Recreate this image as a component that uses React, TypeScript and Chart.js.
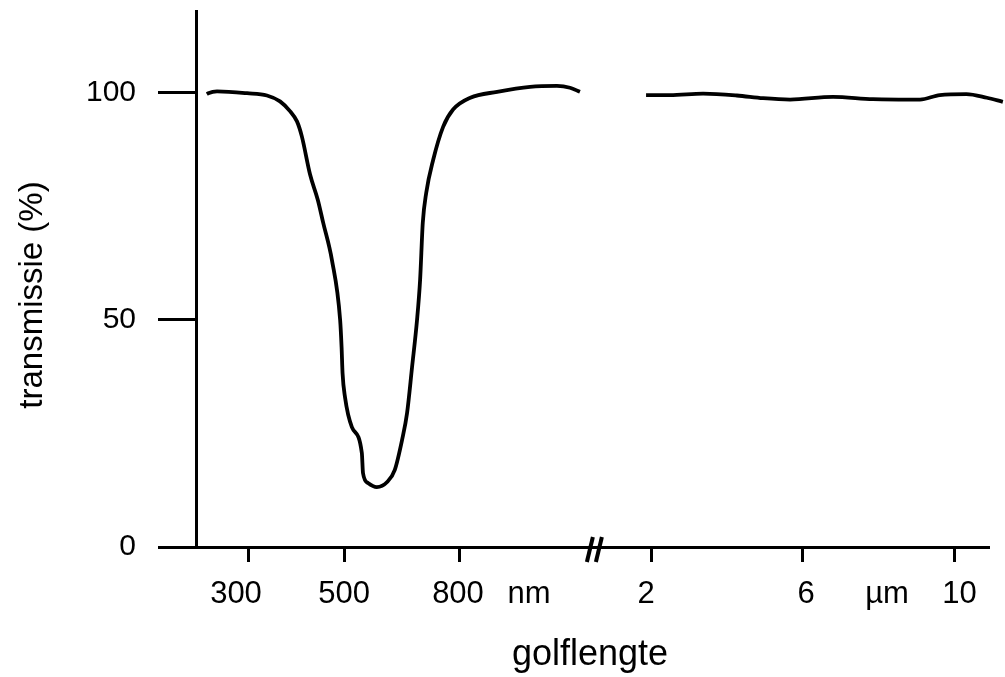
import React, { useEffect, useRef } from 'react';
import { Chart, registerables } from 'chart.js';

Chart.register(...registerables);

// ---- data ----
// visible part, wavelength in nm
const NM_WAVELENGTH = [215, 218, 236, 298, 339, 366, 387, 401, 411, 428, 444, 455, 473, 490, 493, 495, 500, 518, 544, 547, 560, 583, 610, 630, 649, 662, 675, 688, 696, 703, 712, 730, 756, 782, 827, 897, 983, 1053, 1087, 1113];
const NM_TRANSMISSION = [99.7, 99.9, 100.3, 99.9, 99.4, 98.1, 95.9, 93.7, 90.4, 82, 76.4, 71.4, 63.2, 50, 44, 38.3, 33, 26.4, 20.7, 16.3, 14.1, 13.2, 14.3, 17, 23.6, 29.5, 39.6, 50, 58.8, 71.4, 78, 85.2, 92.5, 96.3, 98.9, 100.2, 101.3, 101.5, 101.1, 100.2];
// infrared part, wavelength in µm
const UM_WAVELENGTH = [1.87, 2.5, 3.37, 4.26, 4.95, 5.66, 6.79, 7.84, 9.08, 9.6, 10.3, 10.84, 11.26];
const UM_TRANSMISSION = [99.5, 99.5, 99.8, 99.4, 98.8, 98.5, 99.1, 98.6, 98.5, 99.5, 99.7, 98.9, 98.0];

const Y_TICKS = [0, 50, 100];
const X_TICK_MARKS_NM = [300, 500, 800];
const X_TICK_MARKS_UM = [2, 6, 10];
const X_LABELS = ['300', '500', '800', 'nm', '2', '6', '\u00b5m', '10'];

const X_TITLE = 'golflengte';
const Y_TITLE = 'transmissie (%)';

// ---- broken, schematic wavelength axis (scale configuration) ----
const AXIS_MIN = 0;
const AXIS_MAX = 100;
const NM_ANCHOR_POS = [6.57, 18.81, 33.33];
const UM_ANCHOR_POS = [57.45, 76.64, 95.83];
const LABEL_POS = [5.05, 18.69, 33.08, 42.05, 56.82, 77.02, 87.25, 96.4];
const BREAK_POS = 50.3;

function piecewise(v: number, xs: number[], ps: number[]): number {
  let i = 0;
  if (v > xs[1]) i = 1;
  const x0 = xs[i], x1 = xs[i + 1];
  const p0 = ps[i], p1 = ps[i + 1];
  return p0 + ((v - x0) / (x1 - x0)) * (p1 - p0);
}
const nmToAxis = (v: number) => piecewise(v, X_TICK_MARKS_NM, NM_ANCHOR_POS);
const umToAxis = (v: number) => piecewise(v, X_TICK_MARKS_UM, UM_ANCHOR_POS);

const FONT = '"Liberation Sans", Arial, Helvetica, sans-serif';

export default function App() {
  const ref = useRef<HTMLCanvasElement | null>(null);

  useEffect(() => {
    if (!ref.current) return;

    const titlesPlugin = {
      id: 'titlesAndBreak',
      afterDraw(chart: any) {
        const ctx = chart.ctx;
        const area = chart.chartArea;
        const xs = chart.scales.x;
        ctx.save();
        ctx.fillStyle = '#000';
        // y title
        ctx.save();
        ctx.translate(42, 295);
        ctx.rotate(-Math.PI / 2);
        ctx.font = `33px ${FONT}`;
        ctx.textAlign = 'center';
        ctx.textBaseline = 'alphabetic';
        ctx.fillText(Y_TITLE, 0, 0);
        ctx.restore();
        // x title
        ctx.font = `36px ${FONT}`;
        ctx.textAlign = 'center';
        ctx.textBaseline = 'alphabetic';
        ctx.fillText(X_TITLE, (area.left + area.right) / 2 - 2, 665);
        // axis break marks "//"
        const bx = xs.getPixelForValue(BREAK_POS);
        const by = area.bottom;
        ctx.strokeStyle = '#000';
        ctx.lineWidth = 4;
        ctx.lineCap = 'butt';
        for (const dx of [-4.5, 4.5]) {
          ctx.beginPath();
          ctx.moveTo(bx + dx + 3, by - 10);
          ctx.lineTo(bx + dx - 3, by + 15);
          ctx.stroke();
        }
        ctx.restore();
      },
    };

    const chart = new Chart(ref.current, {
      type: 'line',
      data: {
        datasets: [
          {
            data: NM_WAVELENGTH.map((w, i) => ({ x: nmToAxis(w), y: NM_TRANSMISSION[i] })),
            borderColor: '#000',
            borderWidth: 3.8,
            pointRadius: 0,
            cubicInterpolationMode: 'monotone',
            clip: false,
            xAxisID: 'x',
            yAxisID: 'y',
          } as any,
          {
            data: UM_WAVELENGTH.map((w, i) => ({ x: umToAxis(w), y: UM_TRANSMISSION[i] })),
            borderColor: '#000',
            borderWidth: 3.8,
            pointRadius: 0,
            cubicInterpolationMode: 'monotone',
            clip: false,
            xAxisID: 'x',
            yAxisID: 'y',
          } as any,
        ],
      },
      options: {
        responsive: false,
        devicePixelRatio: 1,
        animation: false,
        layout: { padding: { left: 0, right: 17, top: 11, bottom: 0 } },
        plugins: { legend: { display: false }, tooltip: { enabled: false } },
        scales: {
          x: {
            type: 'linear',
            position: 'bottom',
            weight: 0,
            min: AXIS_MIN,
            max: AXIS_MAX,
            afterBuildTicks: (axis: any) => {
              axis.ticks = [
                ...X_TICK_MARKS_NM.map((v) => ({ value: nmToAxis(v) })),
                ...X_TICK_MARKS_UM.map((v) => ({ value: umToAxis(v) })),
              ];
            },
            afterFit: (axis: any) => {
              axis.height = 15;
              axis.paddingLeft = 0;
              axis.paddingRight = 0;
            },
            ticks: { display: false, autoSkip: false },
            grid: {
              drawOnChartArea: false,
              drawTicks: true,
              tickLength: 15,
              lineWidth: 3,
              color: '#000',
            },
            border: { display: true, color: '#000', width: 3 },
          },
          xl: {
            type: 'linear',
            position: 'bottom',
            weight: 1,
            min: AXIS_MIN,
            max: AXIS_MAX,
            afterBuildTicks: (axis: any) => {
              axis.ticks = LABEL_POS.map((v) => ({ value: v }));
            },
            afterFit: (axis: any) => {
              axis.height = 115;
              axis.paddingLeft = 0;
              axis.paddingRight = 0;
            },
            ticks: {
              autoSkip: false,
              maxRotation: 0,
              padding: 6,
              color: '#000',
              font: { family: FONT, size: 31 },
              callback: (_v: any, i: number) => X_LABELS[i],
            },
            grid: { display: false },
            border: { display: false },
          },
          y: {
            type: 'linear',
            min: 0,
            max: 118,
            afterBuildTicks: (axis: any) => {
              axis.ticks = Y_TICKS.map((v) => ({ value: v }));
            },
            afterFit: (axis: any) => {
              axis.width = 196;
              axis.paddingTop = 0;
              axis.paddingBottom = 0;
            },
            ticks: {
              padding: 22,
              color: '#000',
              font: { family: FONT, size: 30 },
              callback: (v: any) => String(v),
            },
            grid: {
              drawOnChartArea: false,
              drawTicks: true,
              tickLength: 38,
              lineWidth: 3,
              color: '#000',
            },
            border: { display: true, color: '#000', width: 3 },
          },
        },
      } as any,
      plugins: [titlesPlugin],
    });

    return () => chart.destroy();
  }, []);

  return (
    <div style={{ position: 'absolute', left: 0, top: 0, width: 1005, height: 677, background: '#fff' }}>
      <canvas ref={ref} width={1005} height={677} style={{ display: 'block' }} />
    </div>
  );
}
